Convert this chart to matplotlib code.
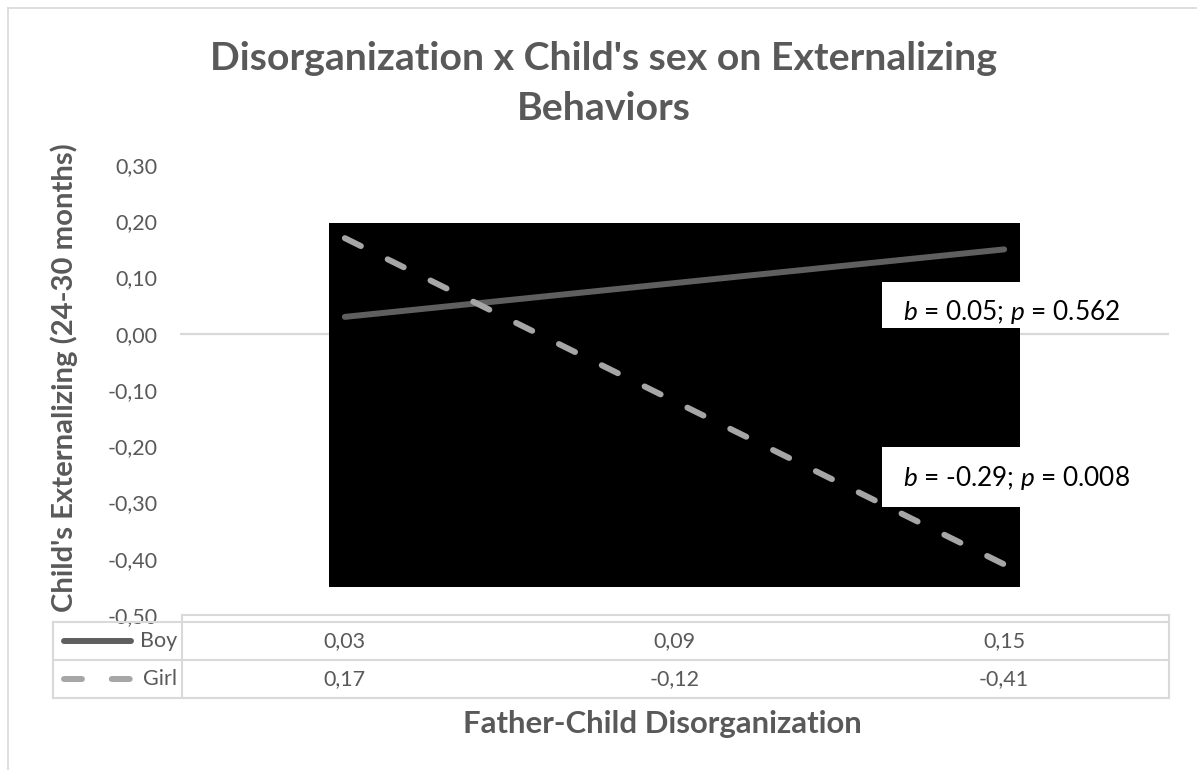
import matplotlib
matplotlib.use("Agg")
import matplotlib.pyplot as plt
from matplotlib.patches import Rectangle
from matplotlib.lines import Line2D
from matplotlib.transforms import blended_transform_factory

# ---------------- data ----------------
categories = ["Low", "Mean", "High"]          # positions along the x axis (not labelled)
series_names = ["Boy", "Girl"]
boy = [0.03, 0.09, 0.15]
girl = [0.17, -0.12, -0.41]
yticks = [-0.50, -0.40, -0.30, -0.20, -0.10, 0.00, 0.10, 0.20, 0.30]
title_lines = ["Disorganization x Child's sex on Externalizing", "Behaviors"]
ylabel = "Child's Externalizing (24-30 months)"
xlabel = "Father-Child Disorganization"
annotations = ["$b$ = 0.05; $p$ = 0.562", "$b$ = -0.29; $p$ = 0.008"]

# ---------------- style ----------------
FONT = "Lato"
plt.rcParams["font.family"] = [FONT, "DejaVu Sans"]
plt.rcParams["mathtext.fontset"] = "custom"
plt.rcParams["mathtext.it"] = FONT + ":italic"
plt.rcParams["mathtext.rm"] = FONT
plt.rcParams["mathtext.bf"] = FONT + ":bold"

TXT = "#595959"
GRID = "#d9d9d9"
BOY_C = "#5f5f5f"
GIRL_C = "#a6a6a6"
LW = 4.3
DASH = (3, 5)

W, H = 1197, 770
fig = plt.figure(figsize=(W / 100, H / 100), dpi=100)
fig.patch.set_facecolor("white")


def fx(x):
    return x / W


def fy(y):
    return 1 - y / H


renderer = fig.canvas.get_renderer()


def fit(t, target, use_height=False):
    bb = t.get_window_extent(renderer)
    cur = bb.height if use_height else bb.width
    t.set_fontsize(t.get_fontsize() * target / cur)


# size of small labels: "0,30" is about 42 px wide in the reference
probe = fig.text(0, 0, "0,30", fontsize=12)
fit(probe, 42)
SMALL = probe.get_fontsize()
probe.remove()

# chart border (top & left visible)
fig.add_artist(Line2D([fx(8), fx(1197)], [fy(8), fy(8)], color=GRID, lw=1.2))
fig.add_artist(Line2D([fx(8), fx(8)], [fy(8), fy(770)], color=GRID, lw=1.2))

# ---------------- axes ----------------
left, right, top, bottom = 180, 1169, 165, 615
ax = fig.add_axes([fx(left), fy(bottom), (right - left) / W, (bottom - top) / H])
ax.set_facecolor("none")
for s in ax.spines.values():
    s.set_visible(False)

x = list(range(len(categories)))
ax.axhline(0, color=GRID, lw=1.6, zorder=1)

# black shape behind the lines
rect = Rectangle((fx(329), fy(587)), (1020 - 329) / W, (587 - 223) / H,
                 transform=fig.transFigure, facecolor="black", edgecolor="none",
                 zorder=2, clip_on=False)
ax.add_patch(rect)

ax.plot(x, boy, color=BOY_C, lw=LW, solid_capstyle="round", zorder=3)
ax.plot(x, girl, color=GIRL_C, lw=LW, dashes=DASH, dash_capstyle="round", zorder=3)

ax.set_xlim(-0.5, len(categories) - 0.5)
ax.set_ylim(yticks[0], yticks[-1])
ax.set_xticks([])
ax.set_yticks(yticks)
ax.set_yticklabels([f"{v:.2f}".replace(".", ",") for v in yticks])
ax.tick_params(axis="y", length=0, pad=16, labelcolor=TXT, labelsize=SMALL)

# white annotation boxes
for (y0, y1) in [(282, 328), (447, 507)]:
    fig.add_artist(Rectangle((fx(882), fy(y1)), (1172 - 882) / W, (y1 - y0) / H,
                             transform=fig.transFigure, facecolor="white",
                             edgecolor="none", zorder=4))
a1 = fig.text(fx(903), fy(312), annotations[0], ha="left", va="center",
              color="black", fontsize=17, zorder=5)
a2 = fig.text(fx(903), fy(478), annotations[1], ha="left", va="center",
              color="black", fontsize=17, zorder=5)
fit(a1, 217)
a2.set_fontsize(a1.get_fontsize())

# ---------------- data table ----------------
def hline(y, x0, x1):
    fig.add_artist(Line2D([fx(x0), fx(x1)], [fy(y), fy(y)], color=GRID, lw=1.5))


def vline(x0, y0, y1):
    fig.add_artist(Line2D([fx(x0), fx(x0)], [fy(y0), fy(y1)], color=GRID, lw=1.5))


hline(615, 182, 1169)
hline(622, 53, 1169)
hline(660, 53, 1169)
hline(698, 53, 1169)
vline(53, 622, 698)
vline(182, 615, 698)
vline(1169, 615, 698)

tr = blended_transform_factory(ax.transData, fig.transFigure)
row_y = [641, 679]
for vals, ry in zip([boy, girl], row_y):
    for xi, v in zip(x, vals):
        ax.text(xi, fy(ry), f"{v:.2f}".replace(".", ","), transform=tr,
                ha="center", va="center", color=TXT, fontsize=SMALL, clip_on=False)

# legend keys inside the table
fig.add_artist(Line2D([fx(64), fx(131)], [fy(row_y[0])] * 2, color=BOY_C, lw=LW,
                      solid_capstyle="round"))
fig.add_artist(Line2D([fx(64), fx(131)], [fy(row_y[1])] * 2, color=GIRL_C, lw=LW,
                      dashes=DASH, dash_capstyle="round"))
for name, ry in zip(series_names, row_y):
    fig.text(fx(177), fy(ry), name, ha="right", va="center", color=TXT, fontsize=SMALL)

# ---------------- titles ----------------
t1 = fig.text(fx(604), fy(70), title_lines[0], ha="center", va="baseline",
              color=TXT, fontsize=24, fontweight="bold")
fit(t1, 789)
t2 = fig.text(fx(604), fy(120), title_lines[1], ha="center", va="baseline",
              color=TXT, fontsize=t1.get_fontsize(), fontweight="bold")

yl = fig.text(fx(64), fy(378), ylabel, rotation=90, ha="center", va="center",
              color=TXT, fontsize=16, fontweight="bold")
fit(yl, 469, use_height=True)

xl = fig.text(fx(662), fy(724), xlabel, ha="center", va="center",
              color=TXT, fontsize=16, fontweight="bold")
fit(xl, 400)

fig.savefig("out.png", dpi=100, facecolor="white")
